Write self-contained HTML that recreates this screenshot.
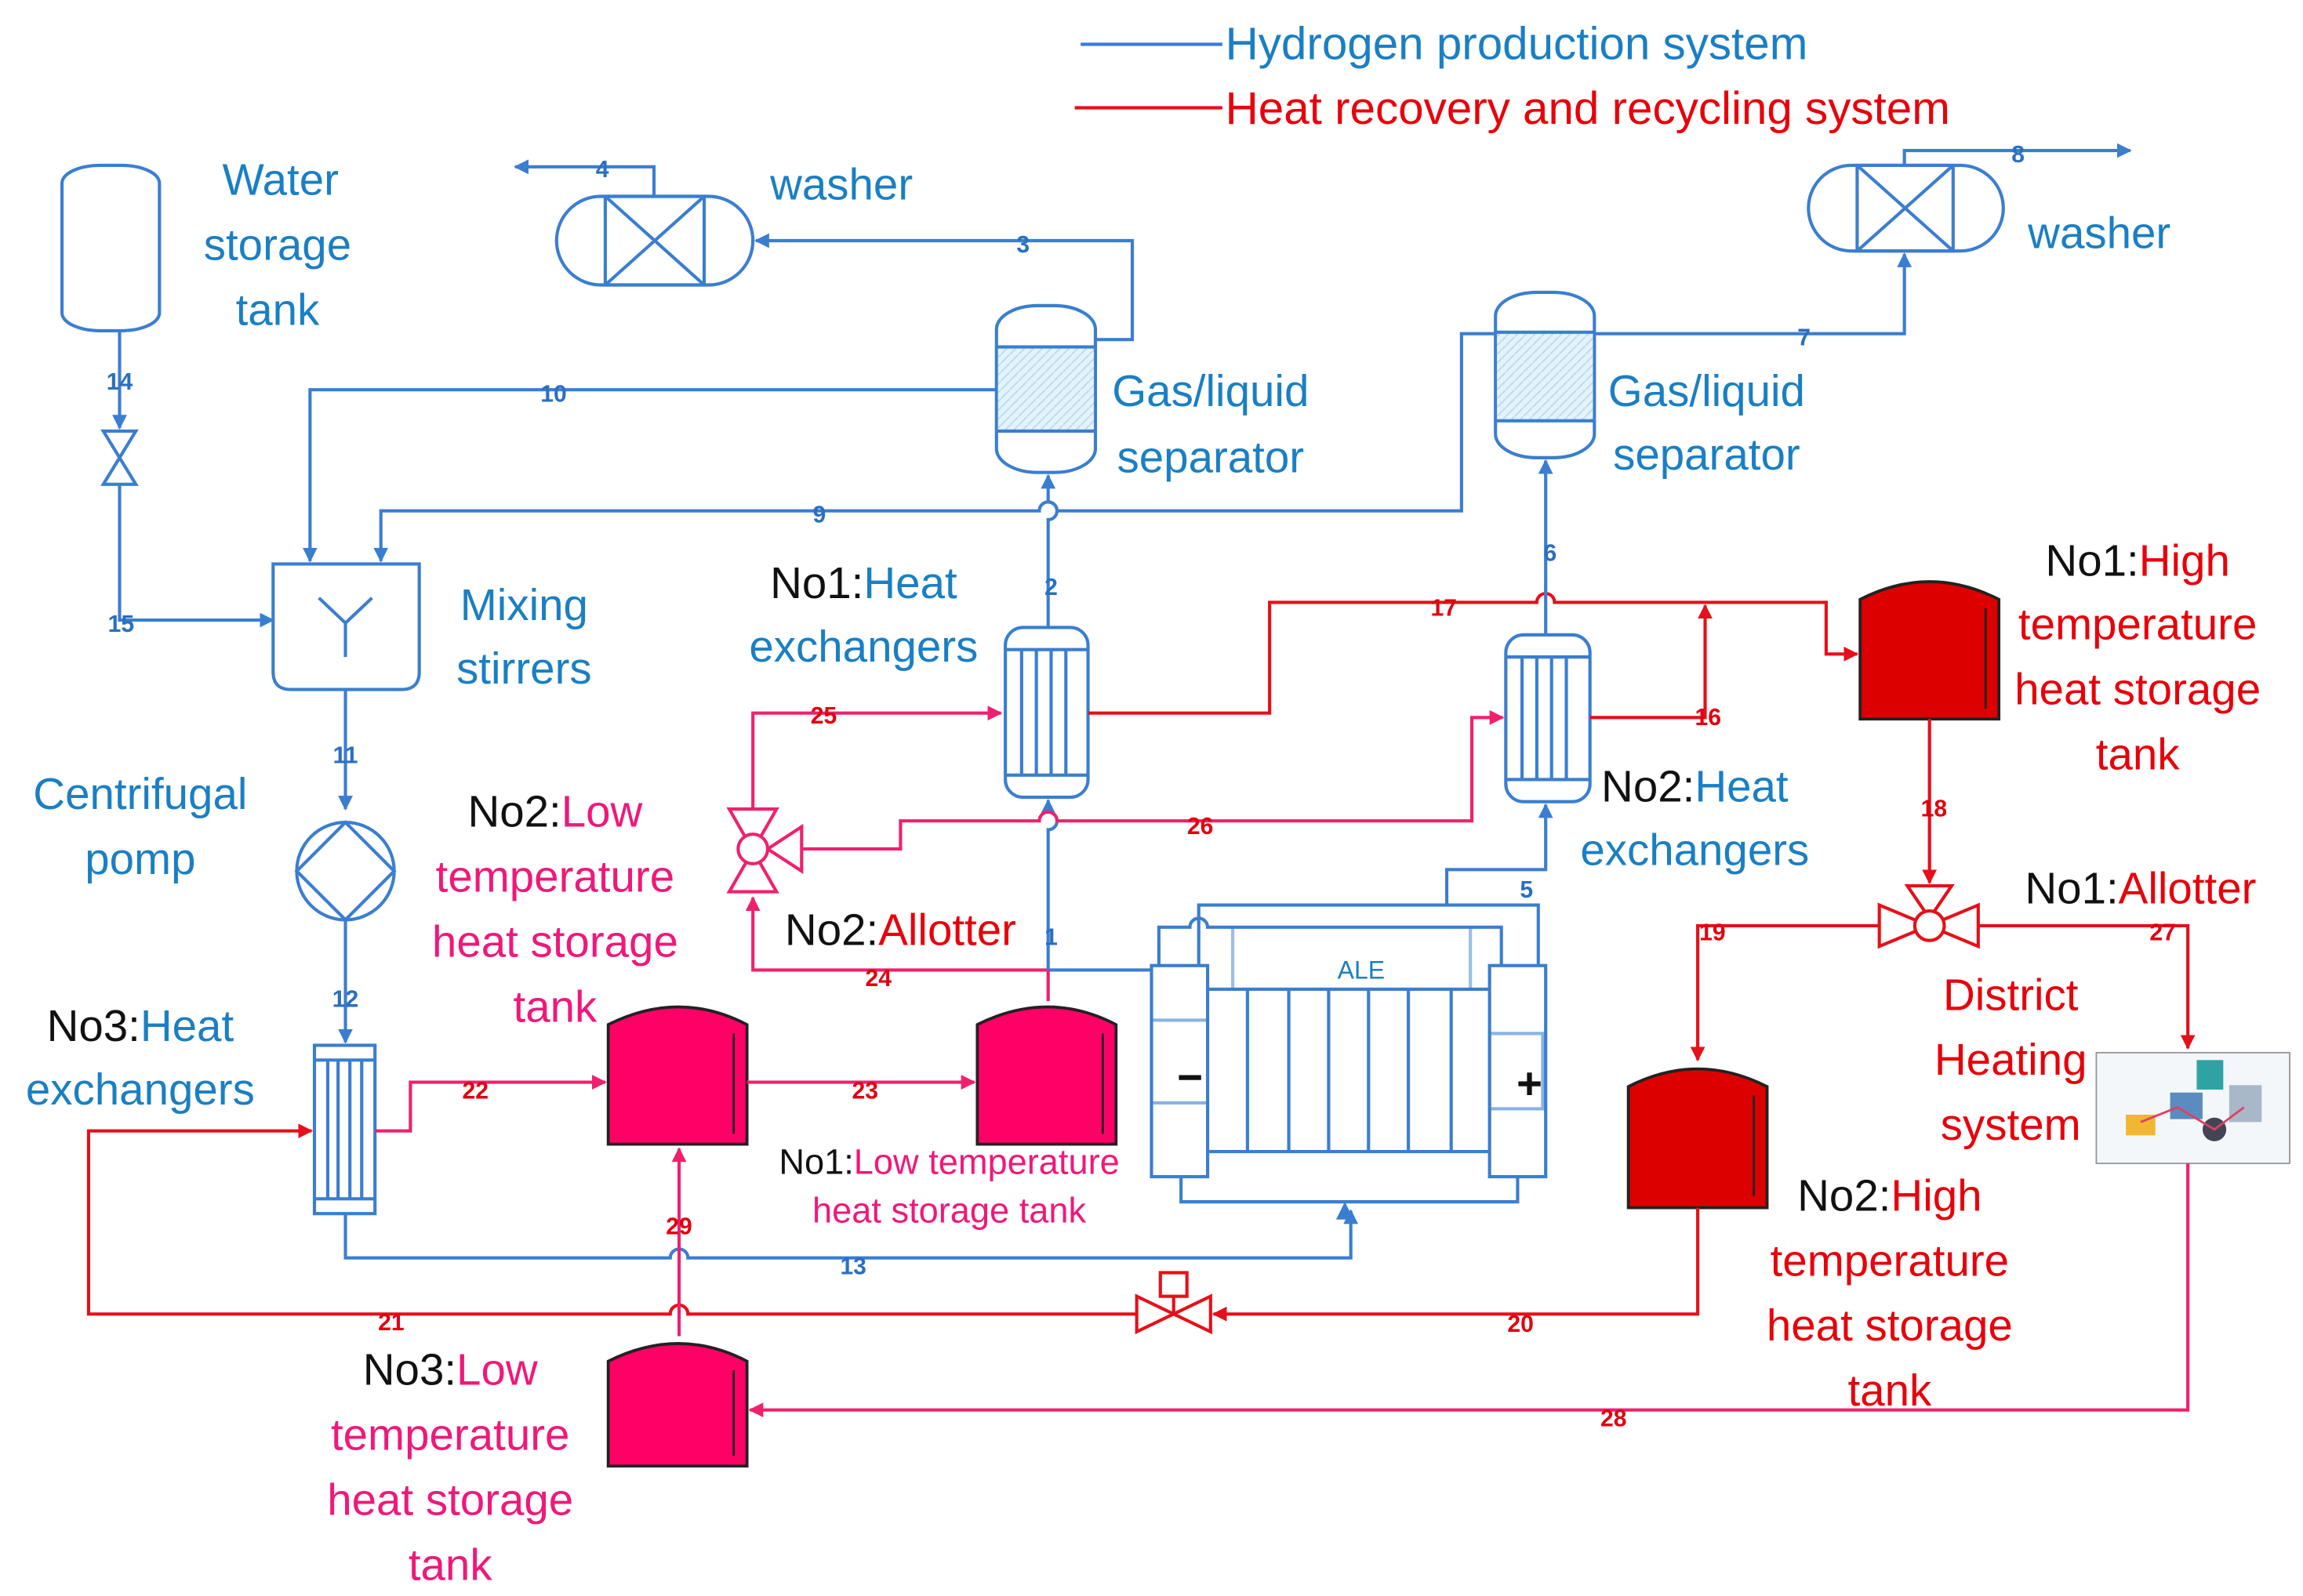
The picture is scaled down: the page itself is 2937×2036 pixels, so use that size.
<!DOCTYPE html>
<html><head><meta charset="utf-8"><style>
html,body{margin:0;padding:0;background:#fff;}
svg{display:block}
text{font-family:"Liberation Sans",sans-serif}
.big{font-size:30px;text-anchor:middle}
.b{fill:#1a7fc4}.r{fill:#e8000b}.p{fill:#f0187a}.k{fill:#111}
.n{font-size:16px;font-weight:bold;text-anchor:middle}
.nb{fill:#2a6fc0}.nr{fill:#e00010}
.bl{stroke:#3a7ed0;stroke-width:2.2;fill:none}
.rl{stroke:#e5101a;stroke-width:2.2;fill:none}
.pl{stroke:#f0206e;stroke-width:2.2;fill:none}
</style></head><body>
<svg width="2937" height="2036" viewBox="0 0 1560 1081" preserveAspectRatio="none" xmlns="http://www.w3.org/2000/svg">
<defs>
<marker id="ab" markerWidth="10" markerHeight="10" refX="9" refY="5" orient="auto" markerUnits="userSpaceOnUse"><path d="M0,0 L10,5 L0,10 Z" fill="#3a7ed0"/></marker>
<marker id="ar" markerWidth="10" markerHeight="10" refX="9" refY="5" orient="auto" markerUnits="userSpaceOnUse"><path d="M0,0 L10,5 L0,10 Z" fill="#e5101a"/></marker>
<marker id="ap" markerWidth="10" markerHeight="10" refX="9" refY="5" orient="auto" markerUnits="userSpaceOnUse"><path d="M0,0 L10,5 L0,10 Z" fill="#f0206e"/></marker>
<pattern id="hatch" width="6" height="6" patternUnits="userSpaceOnUse"><rect width="6" height="6" fill="#e4f2fa"/><path d="M0,6 L6,0" stroke="#b8dcef" stroke-width="1"/></pattern>
</defs>

<!-- legend -->
<line x1="732" y1="30" x2="828" y2="30" class="bl"/>
<text x="830" y="40" style="font-size:31px" class="b">Hydrogen production system</text>
<line x1="728" y1="73" x2="828" y2="73" class="rl"/>
<text x="830" y="84" style="font-size:31px" class="r">Heat recovery and recycling system</text>

<!-- water tank -->
<rect x="42" y="112" width="66" height="112" rx="26" ry="12" class="bl" stroke-width="1.6"/>
<text class="big b" x="190" y="132">Water</text><text class="big b" x="188" y="176">storage</text><text class="big b" x="188" y="220">tank</text>
<path d="M81,224 V290" class="bl" marker-end="url(#ab)"/>
<path d="M70,292 L92,292 L70,328 L92,328 Z" class="bl" stroke-width="1.8"/>
<path d="M81,328 V420 H185" class="bl" marker-end="url(#ab)"/>
<text class="n nb" x="81" y="264">14</text><text class="n nb" x="82" y="428">15</text>

<!-- mixing stirrer -->
<path d="M185,382 H284 V455 Q284,467 272,467 H197 Q185,467 185,455 Z" class="bl" stroke-width="1.8"/>
<path d="M216,405 L234,422 L252,405 M234,422 V445" class="bl"/>
<text class="big b" x="355" y="420">Mixing</text><text class="big b" x="355" y="463">stirrers</text>
<path d="M675,264 H210 V380" class="bl" marker-end="url(#ab)"/>
<text class="n nb" x="375" y="272">10</text>
<path d="M1013,226 H990 V346 H716 A6,6 0 0 0 704,346 H258 V380" class="bl" marker-end="url(#ab)"/>
<text class="n nb" x="555" y="354">9</text>

<!-- pump -->
<path d="M234,467 V548" class="bl" marker-end="url(#ab)"/>
<text class="n nb" x="234" y="517">11</text>
<circle cx="234" cy="590" r="33" class="bl" stroke-width="1.8"/>
<path d="M201,590 L234,557 L267,590 L234,623 Z" class="bl" stroke-width="1.6"/>
<text class="big b" x="95" y="548">Centrifugal</text><text class="big b" x="95" y="592">pomp</text>
<path d="M234,623 V706" class="bl" marker-end="url(#ab)"/>
<text class="n nb" x="234" y="682">12</text>

<!-- No3 heat exchanger -->
<rect x="213" y="708" width="41" height="114" class="bl" stroke-width="1.8"/>
<path d="M213,718 H254 M213,812 H254 M222,718 V812 M229,718 V812 M237,718 V812 M245,718 V812" class="bl" stroke-width="1.4"/>
<text class="big" x="95" y="705"><tspan class="k">No3:</tspan><tspan class="b">Heat</tspan></text>
<text class="big b" x="95" y="748">exchangers</text>
<path d="M234,822 V852 H454 A6,6 0 0 1 466,852 H915 V820" class="bl" marker-end="url(#ab)"/>
<text class="n nb" x="578" y="863">13</text>

<!-- red 21 -->
<path d="M770,890 H466 A6,6 0 0 0 454,890 H60 V766 H211" class="rl" marker-end="url(#ar)"/>
<text class="n nr" x="265" y="901">21</text>
<path d="M254,766 H278 V733 H410" class="pl" marker-end="url(#ap)"/>
<text class="n nr" x="322" y="744">22</text>

<!-- tanks -->
<g stroke="#222" stroke-width="2">
<path d="M412,775 V694 Q460,670 506,694 V775 Z" fill="#ff0066"/>
<path d="M662,775 V694 Q710,670 756,694 V775 Z" fill="#ff0066"/>
<path d="M412,993 V922 Q460,898 506,922 V993 Z" fill="#ff0066"/>
<path d="M1260,487 V406 Q1307,382 1354,406 V487 Z" fill="#dd0000"/>
<path d="M1103,818 V736 Q1150,712 1197,736 V818 Z" fill="#dd0000"/>
</g>
<g stroke="#222" stroke-width="1.5">
<path d="M497,700 V768 M747,700 V768 M497,928 V986 M1345,412 V480 M1188,742 V810"/>
</g>

<text class="big" x="376" y="560"><tspan class="k">No2:</tspan><tspan class="p">Low</tspan></text>
<text class="big p" x="376" y="604">temperature</text><text class="big p" x="376" y="648">heat storage</text><text class="big p" x="376" y="692">tank</text>
<path d="M506,733 H660" class="pl" marker-end="url(#ap)"/>
<text class="n nr" x="586" y="744">23</text>
<text x="643" y="795" style="font-size:24px;text-anchor:middle"><tspan class="k">No1:</tspan><tspan class="p">Low temperature</tspan></text>
<text x="643" y="828" style="font-size:24px;text-anchor:middle" class="p">heat storage tank</text>

<text class="big" x="305" y="938"><tspan class="k">No3:</tspan><tspan class="p">Low</tspan></text>
<text class="big p" x="305" y="982">temperature</text><text class="big p" x="305" y="1026">heat storage</text><text class="big p" x="305" y="1070">tank</text>
<path d="M460,905 V778" class="pl" marker-end="url(#ap)"/>
<text class="n nr" x="460" y="836">29</text>

<!-- line 1 and 24 -->
<path d="M710,657 H780" class="bl"/>
<path d="M710,678 V657 H510 V608" class="pl" marker-end="url(#ap)"/>
<text class="n nr" x="595" y="668">24</text>
<path d="M710,657 V562 A6,6 0 0 0 710,550 V542" class="bl" marker-end="url(#ab)"/>
<text class="n nb" x="712" y="640">1</text>

<!-- No2 allotter -->
<g class="pl" stroke-width="2">
<path d="M494,548 L526,548 L494,604 L526,604 Z" fill="#fff"/>
<path d="M543,560 L543,590 L520,575 Z" fill="#fff"/>
<circle cx="510" cy="575" r="10" fill="#fff"/>
</g>
<text class="big" x="610" y="640"><tspan class="k">No2:</tspan><tspan class="r">Allotter</tspan></text>
<path d="M510,548 V483 H678" class="pl" marker-end="url(#ap)"/>
<text class="n nr" x="558" y="490">25</text>
<path d="M543,575 H610 V556 H704 A6,6 0 0 1 716,556 H997 V486 H1018" class="pl" marker-end="url(#ap)"/>
<text class="n nr" x="813" y="565">26</text>

<!-- No1 heat exchanger -->
<rect x="681" y="425" width="56" height="115" rx="12" class="bl" stroke-width="1.8"/>
<path d="M681,440 H737 M681,525 H737 M692,440 V525 M702,440 V525 M712,440 V525 M722,440 V525" class="bl" stroke-width="1.4"/>
<text class="big" x="585" y="405"><tspan class="k">No1:</tspan><tspan class="b">Heat</tspan></text>
<text class="big b" x="585" y="448">exchangers</text>
<path d="M710,425 V352 A6,6 0 0 0 710,340 V322" class="bl" marker-end="url(#ab)"/>
<text class="n nb" x="712" y="403">2</text>

<!-- separator 1 -->
<rect x="675" y="207" width="67" height="113" rx="28" ry="16" class="bl" stroke-width="1.8"/>
<rect x="676" y="235" width="65" height="57" fill="url(#hatch)"/>
<path d="M675,235 H742 M675,292 H742" class="bl" stroke-width="1.2"/>
<text class="big b" x="820" y="275">Gas/liquid</text><text class="big b" x="820" y="320">separator</text>
<path d="M742,230 H767 V163 H512" class="bl" marker-end="url(#ab)"/>
<text class="n nb" x="693" y="171">3</text>

<!-- washer 1 -->
<rect x="377" y="133" width="133" height="60" rx="30" class="bl" stroke-width="1.8"/>
<rect x="410" y="133" width="67" height="60" class="bl" stroke-width="1.8"/>
<path d="M410,133 L477,193 M477,133 L410,193" class="bl" stroke-width="1.8"/>
<path d="M443,133 V113 H349" class="bl" marker-end="url(#ab)"/>
<text class="n nb" x="408" y="120">4</text>
<text class="big b" x="570" y="135">washer</text>

<!-- red 17 -->
<path d="M737,483 H860 V408 H1041 A6,6 0 0 1 1053,408 H1237 V443 H1258" class="rl" marker-end="url(#ar)"/>
<text class="n nr" x="978" y="417">17</text>
<text class="big" x="1448" y="390"><tspan class="k">No1:</tspan><tspan class="r">High</tspan></text>
<text class="big r" x="1448" y="433">temperature</text><text class="big r" x="1448" y="477">heat storage</text><text class="big r" x="1448" y="521">tank</text>

<!-- No2 heat exchanger -->
<rect x="1020" y="430" width="57" height="113" rx="12" class="bl" stroke-width="1.8"/>
<path d="M1020,445 H1077 M1020,528 H1077 M1031,445 V528 M1041,445 V528 M1051,445 V528 M1061,445 V528" class="bl" stroke-width="1.4"/>
<text class="big" x="1148" y="543"><tspan class="k">No2:</tspan><tspan class="b">Heat</tspan></text>
<text class="big b" x="1148" y="586">exchangers</text>
<path d="M1077,486 H1155 V410" class="rl" marker-end="url(#ar)"/>
<text class="n nr" x="1157" y="491">16</text>
<path d="M1047,430 V312" class="bl" marker-end="url(#ab)"/>
<text class="n nb" x="1050" y="380">6</text>

<!-- ALE -->
<path d="M980,613 V589 H1047 V545" class="bl" marker-end="url(#ab)"/>
<text class="n nb" x="1034" y="608">5</text>
<path d="M812,654 V613 H1042 V654" class="bl"/>
<path d="M785,654 V628 H806 A6,6 0 0 1 818,628 H1017 V654" class="bl"/>
<path d="M800,797 V814 H1028 V797" class="bl"/>
<path d="M911,814 L905,826 L917,826 Z" fill="#3a7ed0"/>
<rect x="780" y="654" width="38" height="143" class="bl" stroke-width="1.6"/>
<path d="M780,691 H818 M780,747 H818" class="bl" stroke-width="1" opacity="0.6"/>
<rect x="1009" y="654" width="38" height="143" class="bl" stroke-width="1.6"/>
<rect x="1009" y="700" width="36" height="51" class="bl" stroke-width="1" opacity="0.6"/>
<path d="M818,670 H1009 M818,780 H1009 M845,670 V780 M873,670 V780 M900,670 V780 M927,670 V780 M954,670 V780 M983,670 V780" class="bl" stroke-width="1.6"/>
<path d="M835,628 V670 M996,628 V670" class="bl" stroke-width="1" opacity="0.5"/>
<text x="922" y="663" style="font-size:17px;text-anchor:middle" class="b">ALE</text>
<text x="806" y="740" style="font-size:30px;font-weight:bold;text-anchor:middle" class="k">−</text>
<text x="1036" y="744" style="font-size:30px;font-weight:bold;text-anchor:middle" class="k">+</text>

<!-- separator 2 -->
<rect x="1013" y="198" width="67" height="112" rx="28" ry="16" class="bl" stroke-width="1.8"/>
<rect x="1014" y="225" width="65" height="60" fill="url(#hatch)"/>
<path d="M1013,225 H1080 M1013,285 H1080" class="bl" stroke-width="1.2"/>
<text class="big b" x="1156" y="275">Gas/liquid</text><text class="big b" x="1156" y="318">separator</text>
<path d="M1080,226 H1290 V172" class="bl" marker-end="url(#ab)"/>
<text class="n nb" x="1222" y="234">7</text>

<!-- washer 2 -->
<rect x="1225" y="112" width="132" height="58" rx="29" class="bl" stroke-width="1.8"/>
<rect x="1258" y="112" width="65" height="58" class="bl" stroke-width="1.8"/>
<path d="M1258,112 L1323,170 M1323,112 L1258,170" class="bl" stroke-width="1.8"/>
<path d="M1290,112 V102 H1443" class="bl" marker-end="url(#ab)"/>
<text class="n nb" x="1367" y="110">8</text>
<text class="big b" x="1422" y="168">washer</text>

<!-- 18, allotter 1 -->
<path d="M1307,487 V598" class="rl" marker-end="url(#ar)"/>
<text class="n nr" x="1310" y="553">18</text>
<g class="rl" stroke-width="2">
<path d="M1273,613 L1273,641 L1340,613 L1340,641 Z" fill="#fff"/>
<path d="M1292,600 L1322,600 L1307,622 Z" fill="#fff"/>
<circle cx="1307" cy="627" r="10" fill="#fff"/>
</g>
<text class="big" x="1450" y="612"><tspan class="k">No1:</tspan><tspan class="r">Allotter</tspan></text>
<path d="M1273,627 H1150 V718" class="rl" marker-end="url(#ar)"/>
<text class="n nr" x="1160" y="637">19</text>
<path d="M1340,627 H1482 V710" class="rl" marker-end="url(#ar)"/>
<text class="n nr" x="1465" y="637">27</text>

<text class="big r" x="1362" y="684">District</text><text class="big r" x="1362" y="728">Heating</text><text class="big r" x="1362" y="772">system</text>
<!-- district heating picture -->
<rect x="1420" y="713" width="131" height="75" fill="#f4f7fa" stroke="#999" stroke-width="1"/>
<rect x="1440" y="755" width="20" height="14" fill="#f2b633"/>
<rect x="1470" y="740" width="22" height="18" fill="#5a8cc0"/>
<rect x="1488" y="718" width="18" height="20" fill="#2fa3a3"/>
<rect x="1510" y="735" width="22" height="25" fill="#a9b8c8"/>
<circle cx="1500" cy="765" r="8" fill="#445"/>
<path d="M1450,760 L1475,750 L1500,765 L1520,750" stroke="#e04060" stroke-width="1.5" fill="none"/>

<!-- No2 high tank text -->
<text class="big" x="1280" y="820"><tspan class="k">No2:</tspan><tspan class="r">High</tspan></text>
<text class="big r" x="1280" y="864">temperature</text><text class="big r" x="1280" y="908">heat storage</text><text class="big r" x="1280" y="952">tank</text>

<!-- 20, valve -->
<path d="M1150,818 V890 H822" class="rl" marker-end="url(#ar)"/>
<text class="n nr" x="1030" y="902">20</text>
<g class="rl" stroke-width="2">
<path d="M770,878 L770,902 L820,878 L820,902 Z" fill="#fff"/>
<path d="M795,890 V878" />
<rect x="786" y="862" width="18" height="16" fill="#fff"/>
</g>

<!-- 28 -->
<path d="M1482,788 V955 H508" class="pl" marker-end="url(#ap)"/>
<text class="n nr" x="1093" y="966">28</text>
</svg>
</body></html>
